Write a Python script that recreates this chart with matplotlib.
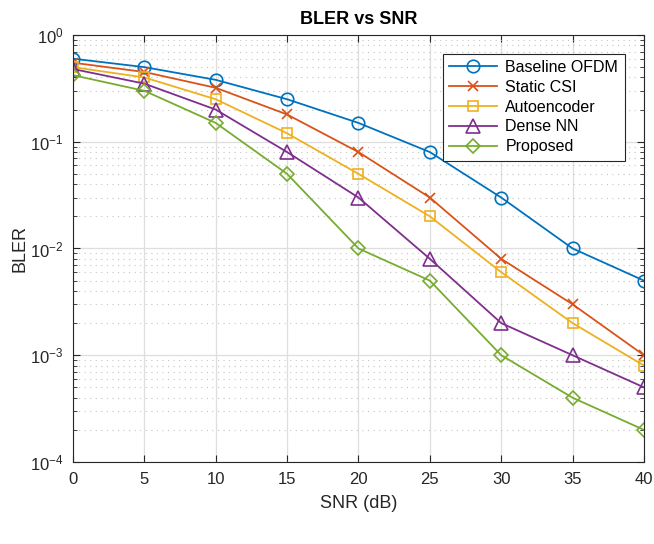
import numpy as np
import matplotlib
matplotlib.use("Agg")
import matplotlib.pyplot as plt

plt.rcParams['font.family'] = ['Liberation Sans', 'DejaVu Sans']
plt.rcParams['axes.unicode_minus'] = False

snr = [0, 5, 10, 15, 20, 25, 30, 35, 40]
baseline = [0.6, 0.5, 0.38, 0.25, 0.15, 0.08, 0.03, 0.01, 0.005]
static_csi = [0.55, 0.45, 0.32, 0.18, 0.08, 0.03, 0.008, 0.003, 0.001]
autoenc = [0.5, 0.4, 0.25, 0.12, 0.05, 0.02, 0.006, 0.002, 0.0008]
dense_nn = [0.48, 0.35, 0.2, 0.08, 0.03, 0.008, 0.002, 0.001, 0.0005]
proposed = [0.42, 0.3, 0.15, 0.05, 0.01, 0.005, 0.001, 0.0004, 0.0002]

labels = ['Baseline OFDM', 'Static CSI', 'Autoencoder', 'Dense NN', 'Proposed']
colors = ['#0072BD', '#D95319', '#EDB120', '#7E2F8E', '#77AC30']
markers = ['o', 'x', 's', '^', 'D']
msizes = [9, 6.5, 7.5, 9.5, 7.5]

fig = plt.figure(figsize=(6.54, 5.44), dpi=100)
ax = fig.add_axes([0.1116, 0.1507, 0.8731, 0.785])

series = [baseline, static_csi, autoenc, dense_nn, proposed]
for y, lab, c, m, ms in zip(series, labels, colors, markers, msizes):
    ax.semilogy(snr, y, color=c, marker=m, markersize=ms, markerfacecolor='none',
                markeredgewidth=1.2, linewidth=1.3, label=lab)

ax.set_xlim(0, 40)
ax.set_ylim(1e-4, 1)
ax.set_xticks(snr)
ax.grid(True, which='major', color='#dedede', linewidth=0.9)
ax.grid(True, which='minor', color='#c4c4c4', linestyle=(0, (1, 4)), linewidth=0.8)
ax.tick_params(which='both', direction='in', top=True, right=True, labelsize=12, colors='#262626')
ax.tick_params(which='major', length=5, pad=7)
ax.tick_params(which='minor', length=3)
for sp in ax.spines.values():
    sp.set_color('#262626')
    sp.set_linewidth(0.8)

ax.set_xlabel('SNR (dB)', fontsize=13, color='#262626', labelpad=6)
ax.set_ylabel('BLER', fontsize=13, color='#262626', labelpad=1)
ax.set_title('BLER vs SNR', fontsize=13, fontweight='bold', pad=8)

leg = ax.legend(loc='upper right', fontsize=11.5, fancybox=False, framealpha=1,
                edgecolor='#262626', handlelength=3.0, borderpad=0.4,
                labelspacing=0.3, handletextpad=0.5, bbox_to_anchor=(0.98, 0.975))
leg.get_frame().set_linewidth(0.8)

fig.savefig('out.png', dpi=100)
